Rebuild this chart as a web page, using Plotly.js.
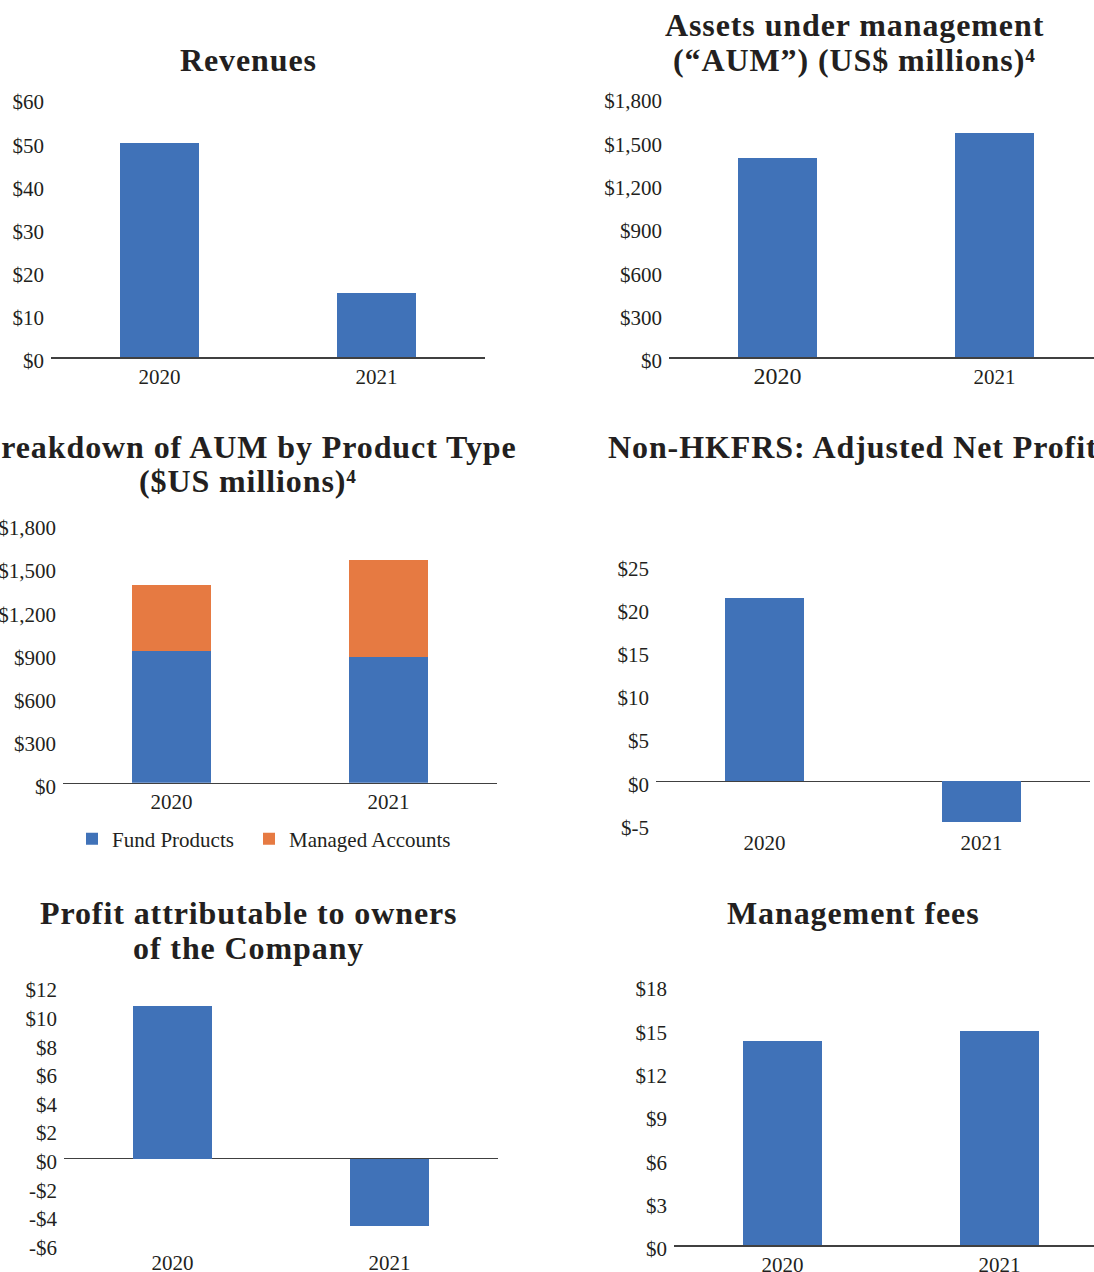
<!DOCTYPE html>
<html>
<head>
<meta charset="utf-8">
<script src="https://cdn.plot.ly/plotly-3.0.1.min.js"></script>
<style>
html,body{margin:0;padding:0;background:#fff;}
.annotation-text{letter-spacing:0.9px;}
</style>
</head>
<body>
<div id="chart" style="width:1094px;height:1272px;"></div>
<script>
// ---- data ----
var years = ["2020", "2021"];
var revenues = [49.6, 14.8];
var aum = [1375, 1550];
var fundProducts = [915, 872];
var managedAccounts = [460, 680];
var adjustedNetProfit = [21.2, -4.7];
var profitOwners = [10.7, -4.7];
var managementFees = [14.1, 14.8];

var revTickVals = [0, 10, 20, 30, 40, 50, 60];
var revTickText = ["$0", "$10", "$20", "$30", "$40", "$50", "$60"];
var aumTickVals = [0, 300, 600, 900, 1200, 1500, 1800];
var aumTickText = ["$0", "$300", "$600", "$900", "$1,200", "$1,500", "$1,800"];
var anpTickVals = [-5, 0, 5, 10, 15, 20, 25];
var anpTickText = ["$-5", "$0", "$5", "$10", "$15", "$20", "$25"];
var poTickVals = [-6, -4, -2, 0, 2, 4, 6, 8, 10, 12];
var poTickText = ["-$6", "-$4", "-$2", "$0", "$2", "$4", "$6", "$8", "$10", "$12"];
var mfTickVals = [0, 3, 6, 9, 12, 15, 18];
var mfTickText = ["$0", "$3", "$6", "$9", "$12", "$15", "$18"];
var aumYearText = ['<span style="font-size:24px">2020</span>', "2021"];

var titles = [
  ["Revenues"],
  ["Assets under management", "(“AUM”) (US$ millions)⁴"],
  ["Breakdown of AUM by Product Type", "($US millions)⁴"],
  ["Non-HKFRS: Adjusted Net Profit"],
  ["Profit attributable to owners", "of the Company"],
  ["Management fees"]
];
var legendNames = ["Fund Products", "Managed Accounts"];

// ---- style ----
var W = 1094, H = 1272;
var BLUE = "#4072B8", ORANGE = "#E67A42", TXT = "#231F20", LINE = "#404040";
var FONT = "Liberation Serif, Times New Roman, serif";
function fx(px) { return px / W; }
function fy(px) { return 1 - px / H; }

var traces = [
  {type: "bar", x: years, y: revenues, xaxis: "x", yaxis: "y", marker: {color: BLUE}, showlegend: false},
  {type: "bar", x: years, y: aum, xaxis: "x2", yaxis: "y2", marker: {color: BLUE}, showlegend: false},
  {type: "bar", x: years, y: fundProducts, xaxis: "x3", yaxis: "y3", marker: {color: BLUE}, name: legendNames[0], legendwidth: 132},
  {type: "bar", x: years, y: managedAccounts, xaxis: "x3", yaxis: "y3", marker: {color: ORANGE}, name: legendNames[1], legendwidth: 175},
  {type: "bar", x: years, y: adjustedNetProfit, xaxis: "x4", yaxis: "y4", marker: {color: BLUE}, showlegend: false},
  {type: "bar", x: years, y: profitOwners, xaxis: "x5", yaxis: "y5", marker: {color: BLUE}, showlegend: false},
  {type: "bar", x: years, y: managementFees, xaxis: "x6", yaxis: "y6", marker: {color: BLUE}, showlegend: false}
];

var tickFont = {family: FONT, size: 21, color: TXT};
function xAx(d0, d1, anchor, r1, line, standoff, tt) {
  var a = {domain: [fx(d0), Math.min(1, fx(d1))], anchor: anchor, type: "category",
    range: [-0.5, r1], showgrid: false, zeroline: false, showline: line, linecolor: LINE, linewidth: 1.5,
    ticks: "", tickfont: tickFont, ticklabelstandoff: standoff, fixedrange: true};
  if (tt) { a.tickmode = "array"; a.tickvals = years; a.ticktext = tt; }
  return a;
}
function yAx(top, bottom, anchor, rng, tv, tt, zl, shift) {
  return {domain: [fy(bottom), fy(top)], anchor: anchor, range: rng, tickvals: tv, ticktext: tt,
    showgrid: false, zeroline: zl, zerolinecolor: LINE, zerolinewidth: 1.5, showline: false,
    ticks: "", tickfont: tickFont, ticklabelstandoff: 6, ticklabelshift: shift, fixedrange: true};
}

var layout = {
  width: W, height: H,
  margin: {l: 0, r: 0, t: 0, b: 0},
  paper_bgcolor: "#fff", plot_bgcolor: "rgba(0,0,0,0)",
  barmode: "stack", bargap: 0.636,
  font: {family: FONT, color: TXT},
  xaxis: xAx(51, 485, "y", 1.5, true, 0),
  yaxis: yAx(98, 357, "x", [0, 60], revTickVals, revTickText, false, 4),
  xaxis2: xAx(669, 1094, "y2", (1094 - 669) / 217 - 0.5, true, 0, aumYearText),
  yaxis2: yAx(97, 357, "x2", [0, 1800], aumTickVals, aumTickText, false, 4),
  xaxis3: xAx(63, 497, "y3", 1.5, true, 0),
  yaxis3: yAx(524, 782.7, "x3", [0, 1800], aumTickVals, aumTickText, false, 4),
  xaxis4: xAx(656, 1090, "y4", 1.5, false, 3),
  yaxis4: yAx(565.3, 824.5, "x4", [-5, 25], anpTickVals, anpTickText, true, 3),
  xaxis5: xAx(64, 498, "y5", 1.5, false, 3),
  yaxis5: yAx(987, 1244.6, "x5", [-6, 12], poTickVals, poTickText, true, 3),
  xaxis6: xAx(674, 1094, "y6", (1094 - 674) / 217 - 0.5, true, 0),
  yaxis6: yAx(985, 1245, "x6", [0, 18], mfTickVals, mfTickText, false, 4),
  showlegend: true,
  legend: {orientation: "h", x: fx(72), xanchor: "left", y: fy(839), yanchor: "middle",
    font: {family: FONT, size: 21, color: TXT}, traceorder: "normal", bgcolor: "rgba(0,0,0,0)"},
  annotations: []
};

var titlePos = [
  {x: 248, y: [60]},
  {x: 854, y: [25, 60]},
  {x: 248, y: [447, 481]},
  {x: 853, y: [447]},
  {x: 248, y: [913, 948]},
  {x: 853, y: [913]}
];
titles.forEach(function (lines, i) {
  lines.forEach(function (t, j) {
    layout.annotations.push({
      xref: "paper", yref: "paper", x: fx(titlePos[i].x), y: fy(titlePos[i].y[j]),
      xanchor: "center", yanchor: "middle", showarrow: false,
      text: "<b>" + t + "</b>",
      font: {family: FONT, size: 32, color: TXT}
    });
  });
});

Plotly.newPlot("chart", traces, layout, {displayModeBar: false, staticPlot: true});
</script>
</body>
</html>
